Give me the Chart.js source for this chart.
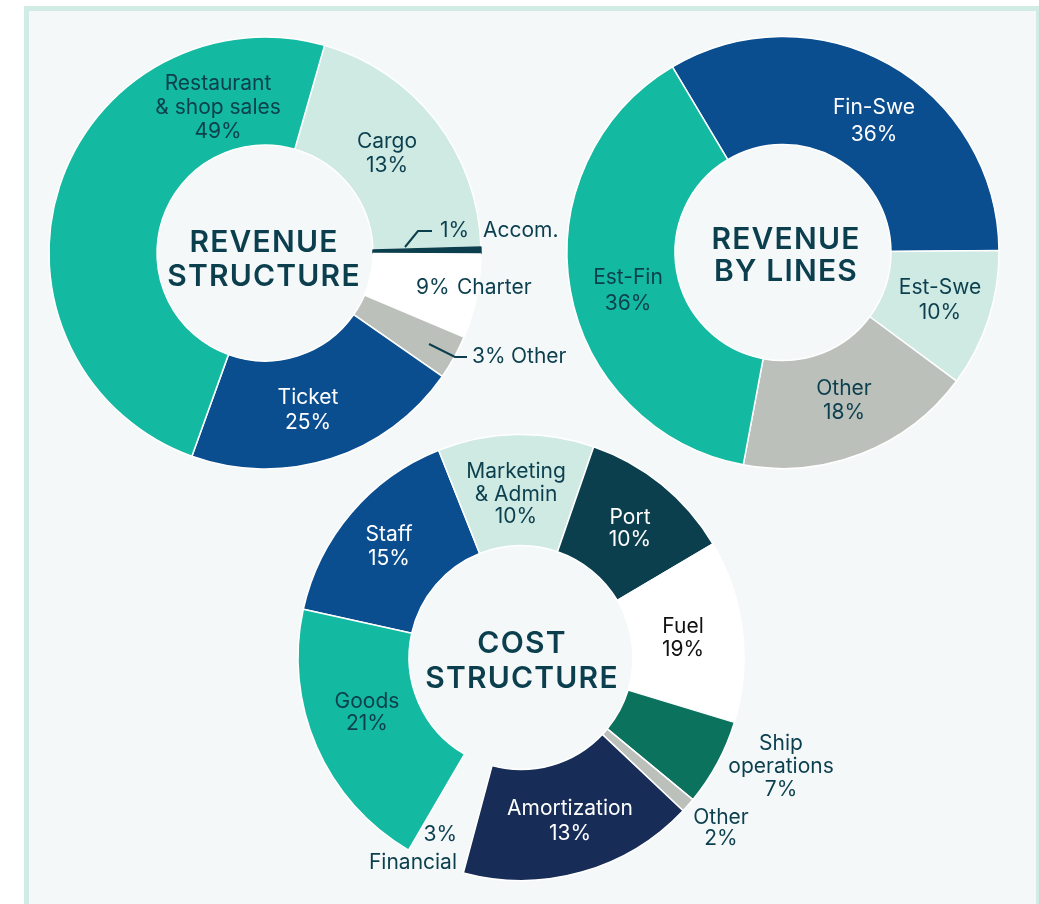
<!DOCTYPE html>
<html lang="en">
<head>
    <meta charset="UTF-8">
    <title>Revenue and cost structure</title>
    <script src="https://cdn.jsdelivr.net/npm/chart.js"></script>
    <style>
        html, body { margin: 0; padding: 0; background: #ffffff; overflow: hidden; }
        body { width: 1039px; height: 904px; position: relative; }
        .frame {
            position: absolute; left: 24px; top: 6px; width: 1017px; height: 1000px;
            box-sizing: border-box; border: 5px solid #d1ebe5; background: #f4f8f9;
        }
        canvas { position: absolute; left: 0; top: 0; }
    </style>
</head>
<body>
    <div class="frame"></div>
    <canvas id="revStructure" width="1039" height="904"></canvas>
    <canvas id="revLines" width="1039" height="904"></canvas>
    <canvas id="costStructure" width="1039" height="904"></canvas>

    <script>
        // Revenue structure (slice sizes as drawn, labels as printed)
        const revCategories = ['Cargo', 'Accom.', 'Charter', 'Other', 'Ticket', 'Restaurant\n& shop sales'];
        const revShares = [20.1, 0.5, 6.3, 3.3, 20.8, 48.9];
        const revLabels = ['13%', '1%', '9%', '3%', '25%', '49%'];

        // Revenue by lines
        const lineCategories = ['Fin-Swe', 'Est-Swe', 'Other', 'Est-Fin'];
        const lineShares = [33.4, 10.3, 17.8, 38.5];
        const lineLabels = ['36%', '10%', '18%', '36%'];

        // Cost structure
        const costCategories = ['Staff', 'Marketing\n& Admin', 'Port', 'Fuel', 'Ship\noperations', 'Other', 'Amortization', 'Financial', 'Goods'];
        const costShares = [15.5, 11.3, 11.2, 13.2, 6.3, 1.05, 17.1, 4.25, 20.05];
        const costLabels = ['15%', '10%', '10%', '19%', '7%', '2%', '13%', '3%', '21%'];

        const C = {
            teal: '#13b9a0', mint: '#cfe9e3', blue: '#0b4e90', grey: '#bcc0ba',
            white: '#ffffff', dark: '#0b3f4e', green: '#0b725e', navy: '#172c57',
            none: 'rgba(0,0,0,0)'
        };
        const FONT = 'Inter, "Noto Sans", sans-serif';

        // draws the centre title, the slice labels and leader lines
        const sliceLabels = {
            id: 'sliceLabels',
            afterDatasetsDraw(chart, args, opts) {
                const ctx = chart.ctx;
                const arc = chart.getDatasetMeta(0).data[0];
                const cx = arc.x, cy = arc.y;
                const cats = opts.categories, pcts = opts.labels;
                ctx.save();

                ctx.fillStyle = C.dark;
                ctx.font = '600 30px ' + FONT;
                ctx.letterSpacing = '1.2px';
                ctx.textAlign = 'center';
                ctx.textBaseline = 'middle';
                opts.title.forEach((t, k) => {
                    ctx.fillText(t, cx + opts.titleDx, cy + opts.titleDy[k]);
                });

                ctx.letterSpacing = '0px';
                ctx.font = '400 21px ' + FONT;
                opts.items.forEach(it => {
                    ctx.fillStyle = it.color;
                    if (it.inline) {
                        ctx.textAlign = 'left';
                        ctx.fillText(pcts[it.i], cx + it.dx, cy + it.dy);
                        ctx.fillText(cats[it.i], cx + it.dx2, cy + it.dy);
                        return;
                    }
                    let lines = cats[it.i].split('\n');
                    lines = it.pctFirst ? [pcts[it.i]].concat(lines) : lines.concat([pcts[it.i]]);
                    ctx.textAlign = it.align || 'center';
                    const lh = it.lh || 24;
                    lines.forEach((ln, k) => {
                        ctx.fillText(ln, cx + it.dx, cy + it.dy + (k - (lines.length - 1) / 2) * lh);
                    });
                });

                ctx.strokeStyle = C.dark;
                ctx.lineWidth = 2;
                (opts.leaders || []).forEach(pts => {
                    ctx.beginPath();
                    pts.forEach((p, k) => {
                        if (k === 0) ctx.moveTo(cx + p[0], cy + p[1]);
                        else ctx.lineTo(cx + p[0], cy + p[1]);
                    });
                    ctx.stroke();
                });
                ctx.restore();
            }
        };

        // padding that puts the chart area centre at (cx, cy)
        function centerAt(cx, cy) {
            const W = 1039, H = 904;
            const s = Math.min(cx, W - cx, cy, H - cy);
            return { left: cx - s, right: W - cx - s, top: cy - s, bottom: H - cy - s };
        }

        function makeDonut(id, center, radius, cutout, rotation, data, colors, borderColors, labelOpts) {
            return new Chart(document.getElementById(id), {
                type: 'doughnut',
                data: {
                    labels: labelOpts.categories,
                    datasets: [{
                        data: data,
                        backgroundColor: colors,
                        borderColor: borderColors,
                        borderWidth: 1.5
                    }]
                },
                options: {
                    responsive: false,
                    animation: false,
                    events: [],
                    radius: radius,
                    cutout: cutout,
                    rotation: rotation,
                    layout: { padding: centerAt(center[0], center[1]) },
                    plugins: {
                        legend: { display: false },
                        tooltip: { enabled: false },
                        sliceLabels: labelOpts
                    }
                },
                plugins: [sliceLabels]
            });
        }

        makeDonut('revStructure', [265, 253], 216, '50%', 16, revShares,
            [C.mint, C.dark, C.white, C.grey, C.blue, C.teal],
            [C.white, C.dark, C.white, C.white, C.white, C.white],
            {
                categories: revCategories, labels: revLabels,
                title: ['REVENUE', 'STRUCTURE'], titleDx: -1, titleDy: [-10.5, 23.5],
                items: [
                    { i: 5, dx: -47, dy: -145, lh: 24, color: C.dark },
                    { i: 0, dx: 122, dy: -99, lh: 24, color: C.dark },
                    { i: 4, dx: 43, dy: 157, lh: 25, color: C.white },
                    { i: 1, inline: true, dx: 175, dx2: 218, dy: -22, color: C.dark },
                    { i: 2, inline: true, dx: 151, dx2: 192, dy: 35, color: C.dark },
                    { i: 3, inline: true, dx: 207, dx2: 246, dy: 104, color: C.dark }
                ],
                leaders: [
                    [[140, -6], [153, -22], [167, -22]],
                    [[164, 91], [190, 104], [202, 104]]
                ]
            });

        makeDonut('revLines', [783, 252.5], 216, '50%', -30.8, lineShares,
            [C.blue, C.mint, C.grey, C.teal],
            C.white,
            {
                categories: lineCategories, labels: lineLabels,
                title: ['REVENUE', 'BY LINES'], titleDx: 3, titleDy: [-13, 19],
                items: [
                    { i: 0, dx: 91, dy: -131, lh: 27, color: C.white },
                    { i: 1, dx: 157, dy: 48, lh: 25, color: C.dark },
                    { i: 2, dx: 61, dy: 148.5, lh: 24, color: C.dark },
                    { i: 3, dx: -155, dy: 38.5, lh: 26, color: C.dark }
                ]
            });

        makeDonut('costStructure', [521, 657.5], 223, '50.2%', 282.5, costShares,
            [C.blue, C.mint, C.dark, C.white, C.green, C.grey, C.navy, C.none, C.teal],
            [C.white, C.white, C.white, C.white, C.white, C.white, C.white, C.none, C.white],
            {
                categories: costCategories, labels: costLabels,
                title: ['COST', 'STRUCTURE'], titleDx: 1, titleDy: [-13.5, 21.5],
                items: [
                    { i: 0, dx: -132, dy: -110.5, lh: 24, color: C.white },
                    { i: 1, dx: -5, dy: -163, lh: 22.5, color: C.dark },
                    { i: 2, dx: 109, dy: -128.5, lh: 22, color: C.white },
                    { i: 3, dx: 162, dy: -19, lh: 23, color: '#111111' },
                    { i: 4, dx: 260, dy: 109.5, lh: 23, color: C.dark },
                    { i: 5, dx: 200, dy: 170.5, lh: 21, color: C.dark },
                    { i: 6, dx: 49, dy: 164, lh: 25, color: C.white },
                    { i: 7, pctFirst: true, align: 'right', dx: -64, dy: 191.5, lh: 28, color: C.dark },
                    { i: 8, dx: -154, dy: 55.5, lh: 22, color: C.dark }
                ]
            });
    </script>
</body>
</html>
